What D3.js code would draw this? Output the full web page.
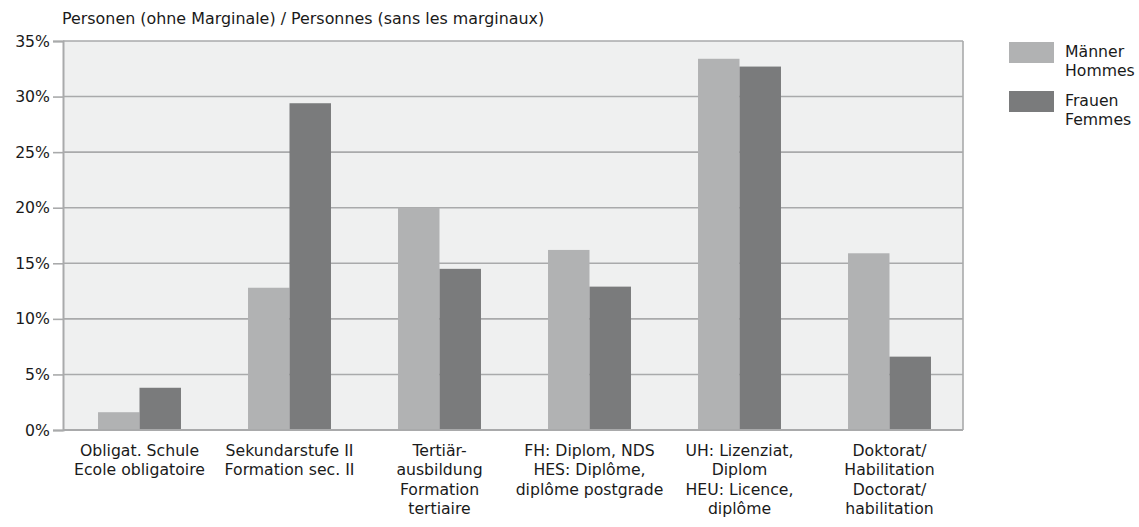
<!DOCTYPE html>
<html>
<head>
<meta charset="utf-8">
<script src="https://cdn.jsdelivr.net/npm/d3@7"></script>
<style>
html, body { margin: 0; padding: 0; background: #fff; }
svg text { font-family: "DejaVu Sans", sans-serif; fill: #1a1a1a; }
</style>
</head>
<body>
<svg id="chart" width="1139" height="527"></svg>
<script>
const categories = [
  ["Obligat. Schule", "Ecole obligatoire"],
  ["Sekundarstufe II", "Formation sec. II"],
  ["Tertiär-", "ausbildung", "Formation", "tertiaire"],
  ["FH: Diplom, NDS", "HES: Diplôme,", "diplôme postgrade"],
  ["UH: Lizenziat,", "Diplom", "HEU: Licence,", "diplôme"],
  ["Doktorat/", "Habilitation", "Doctorat/", "habilitation"]
];
const men = [1.6, 12.8, 20.0, 16.2, 33.4, 15.9];
const women = [3.8, 29.4, 14.5, 12.9, 32.7, 6.6];
const seriesNames = [["Männer", "Hommes"], ["Frauen", "Femmes"]];
const yTicks = [0, 5, 10, 15, 20, 25, 30, 35];
const title = "Personen (ohne Marginale) / Personnes (sans les marginaux)";

const colors = ["#b1b2b3", "#7a7b7c"];
const FS = 15.7;
const svg = d3.select("#chart");
const m = {left: 63, right: 963, top: 41, bottom: 430};

const x = d3.scaleBand().domain(d3.range(categories.length))
  .range([m.left + 1.5, m.right + 1.5]).paddingInner(0.447).paddingOuter(0.2235);
const xs = d3.scaleBand().domain([0, 1]).range([0, x.bandwidth()]);
const y = d3.scaleLinear().domain([0, 35]).range([m.bottom, m.top]);

// background
svg.append("rect").attr("x", m.left).attr("y", m.top)
  .attr("width", m.right - m.left).attr("height", m.bottom - m.top)
  .attr("fill", "#eff0f0");

// grid
svg.append("g").selectAll("line").data(yTicks).join("line")
  .attr("x1", m.left).attr("x2", m.right)
  .attr("y1", d => y(d)).attr("y2", d => y(d))
  .attr("stroke", "#a9aaab").attr("stroke-width", 1.6);

// right border
svg.append("line").attr("x1", m.right).attr("x2", m.right)
  .attr("y1", m.top).attr("y2", m.bottom)
  .attr("stroke", "#a9aaab").attr("stroke-width", 1.6);

// bars
const data = categories.map((c, i) => [men[i], women[i]]);
const g = svg.append("g");
data.forEach((vals, i) => {
  g.selectAll(null).data(vals).join("rect")
    .attr("x", (d, j) => x(i) + xs(j))
    .attr("width", xs.bandwidth())
    .attr("y", d => y(d))
    .attr("height", d => y(0) - y(d))
    .attr("fill", (d, j) => colors[j]);
});

// y axis
const yAxis = d3.axisLeft(y).tickValues(yTicks).tickFormat(d => d + "%").tickSize(10).tickPadding(3);
const ya = svg.append("g").attr("transform", `translate(${m.left},0)`).call(yAxis);
ya.select(".domain").attr("stroke", "#a9aaab").attr("stroke-width", 2);
ya.selectAll(".tick line").attr("stroke", "#a9aaab").attr("stroke-width", 1.6);
ya.selectAll(".tick text").attr("font-size", FS).attr("font-family", "DejaVu Sans").attr("fill", "#1a1a1a");

// x axis bottom line
svg.append("line").attr("x1", m.left).attr("x2", m.right)
  .attr("y1", m.bottom).attr("y2", m.bottom)
  .attr("stroke", "#a9aaab").attr("stroke-width", 2);

// x labels
const xl = svg.append("g");
categories.forEach((lines, i) => {
  const cx = x(i) + x.bandwidth() / 2;
  const t = xl.append("text").attr("text-anchor", "middle").attr("font-size", FS)
    .attr("x", cx).attr("y", 456);
  lines.forEach((ln, k) => {
    t.append("tspan").attr("x", cx).attr("dy", k === 0 ? 0 : 19.3).text(ln);
  });
});

// title
svg.append("text").attr("x", 62).attr("y", 24).attr("font-size", 15.9).text(title);

// legend
const lg = svg.append("g");
seriesNames.forEach((names, i) => {
  lg.append("rect").attr("x", 1009).attr("y", 42 + i * 49).attr("width", 45).attr("height", 21).attr("fill", colors[i]);
  const t = lg.append("text").attr("x", 1065).attr("y", 57 + i * 49).attr("font-size", FS);
  names.forEach((n, k) => t.append("tspan").attr("x", 1065).attr("dy", k === 0 ? 0 : 19.3).text(n));
});
</script>
</body>
</html>
